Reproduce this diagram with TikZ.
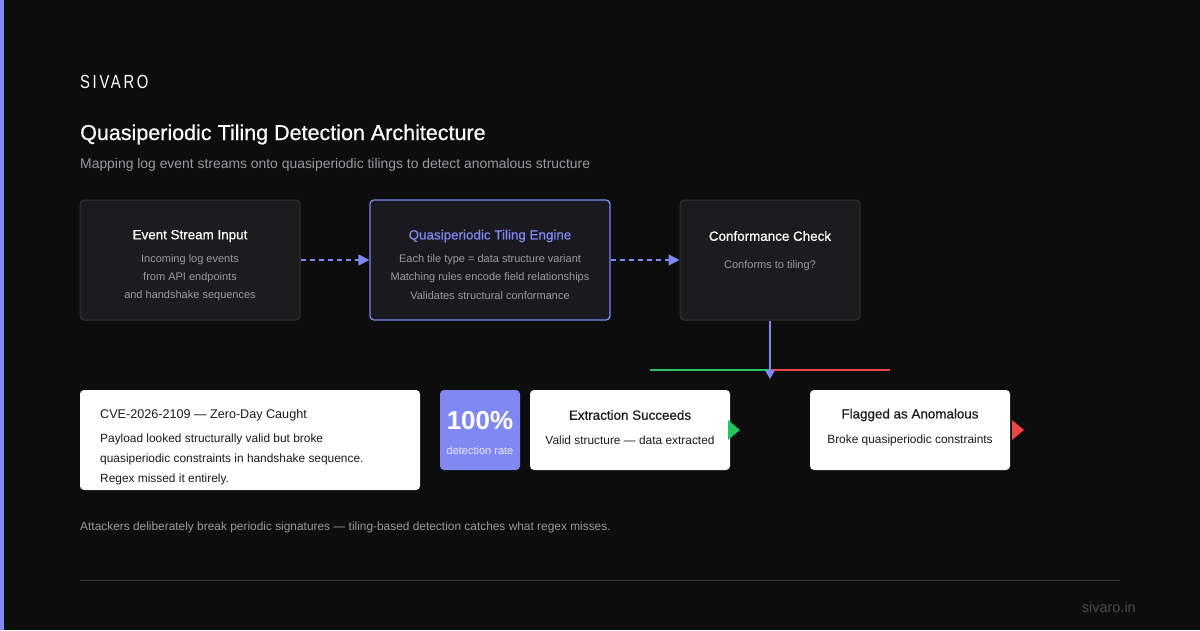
\documentclass[tikz,border=0pt]{standalone}
\usepackage{fontspec}
\setmainfont{Liberation Sans}
\newfontfamily\spacedfont[LetterSpace=14,FakeStretch=0.78]{Liberation Sans}
\newfontfamily\medfont[FakeBold=0.5]{Liberation Sans}
\usetikzlibrary{arrows.meta}
\definecolor{bg}{HTML}{0D0D0D}
\definecolor{accent}{HTML}{7F88F3}
\definecolor{boxfill}{HTML}{1C1C1E}
\definecolor{boxline}{HTML}{303033}
\definecolor{engfill}{HTML}{19191F}
\definecolor{graytxt}{HTML}{9A9AA0}
\definecolor{darktxt}{HTML}{1A1A1A}
\definecolor{okgreen}{HTML}{22C55E}
\definecolor{badred}{HTML}{EF4444}
\definecolor{rulec}{HTML}{333336}
\definecolor{foot}{HTML}{48484C}
\tikzset{
  darkbox/.style={draw=boxline, fill=boxfill, rounded corners=4pt, line width=1pt, inner sep=0pt},
  whitebox/.style={fill=white, rounded corners=4pt, inner sep=0pt},
  boxtitle/.style={font=\medfont\fontsize{13.4}{15}\selectfont, text=white, inner sep=0pt},
  boxbody/.style={font=\fontsize{11}{13}\selectfont, text=graytxt, inner sep=0pt},
  wtitle/.style={font=\medfont\fontsize{13.4}{15}\selectfont, text=darktxt, inner sep=0pt},
  wbody/.style={font=\fontsize{11.9}{13}\selectfont, text=darktxt, inner sep=0pt},
  flow/.style={draw=accent, line width=1.5pt, dash pattern=on 5pt off 4pt, -{Triangle[length=11pt,width=11pt]}},
}
\begin{document}
\begin{tikzpicture}[x=1pt,y=-1pt]
\fill[bg] (0,0) rectangle (1200,630);
\useasboundingbox (0,0) rectangle (1200,630);
\fill[accent] (0,0) rectangle (4,630);

\node[anchor=base west, inner sep=0pt, text=white, font=\spacedfont\fontsize{19}{20}\selectfont] (brand) at (80,88) {SIVARO};
\node[anchor=base west, inner sep=0pt, text=white, font=\medfont\fontsize{21.5}{24}\selectfont] (title) at (80,140) {Quasiperiodic Tiling Detection Architecture};
\node[anchor=base west, inner sep=0pt, text=graytxt, font=\fontsize{13.9}{15}\selectfont] (subtitle) at (80,168) {Mapping log event streams onto quasiperiodic tilings to detect anomalous structure};

% top row boxes
\node[darkbox, minimum width=220pt, minimum height=120pt] (input) at (190,260) {};
\node[darkbox, draw=accent, fill=engfill, line width=1.3pt, minimum width=240pt, minimum height=120pt] (engine) at (490,260) {};
\node[darkbox, minimum width=180pt, minimum height=120pt] (check) at (770,260) {};

\node[boxtitle] (inputT) at (190,236) {Event Stream Input};
\node[boxbody] (inputL1) at (190,260) {Incoming log events};
\node[boxbody] (inputL2) at (190,278) {from API endpoints};
\node[boxbody] (inputL3) at (190,296) {and handshake sequences};

\node[boxtitle, text=accent] (engineT) at (490,236) {Quasiperiodic Tiling Engine};
\node[boxbody] (engineL1) at (490,260) {Each tile type = data structure variant};
\node[boxbody] (engineL2) at (490,278) {Matching rules encode field relationships};
\node[boxbody] (engineL3) at (490,296) {Validates structural conformance};

\node[boxtitle] (checkT) at (770,236) {Conformance Check};
\node[boxbody] (checkL1) at (770,266) {Conforms to tiling?};

\draw[flow] (input.east) -- (engine.west);
\draw[flow] (engine.east) -- (check.west);

% branch
\coordinate (split) at (770,370);
\coordinate (gEnd) at (650,370);
\coordinate (rEnd) at (890,370);
\draw[okgreen, line width=1.5pt] (split) -- (gEnd);
\draw[badred, line width=1.5pt] (split) -- (rEnd);
\draw[accent, line width=1.5pt, -{Triangle[length=9pt,width=10pt]}] (check.south) -- (770,379);

% bottom row
\node[whitebox, minimum width=340pt, minimum height=100pt] (cve) at (250,440) {};
\node[anchor=base west, inner sep=0pt, text=darktxt, font=\fontsize{12.6}{14}\selectfont] (cveT) at (100,418) {CVE-2026-2109 — Zero-Day Caught};
\node[anchor=base west, wbody] (cveL1) at (100,442) {Payload looked structurally valid but broke};
\node[anchor=base west, wbody] (cveL2) at (100,462) {quasiperiodic constraints in handshake sequence.};
\node[anchor=base west, wbody] (cveL3) at (100,482) {Regex missed it entirely.};

\node[whitebox, fill=accent, minimum width=80pt, minimum height=80pt] (stat) at (480,430) {};
\node[inner sep=0pt, text=white, font=\fontsize{26}{28}\selectfont\bfseries] (statN) at (480,421) {100\%};
\node[inner sep=0pt, text=white!85!accent, font=\fontsize{11}{12}\selectfont] (statL) at (480,451) {detection rate};

\node[whitebox, minimum width=200pt, minimum height=80pt] (ok) at (630,430) {};
\node[wtitle] (okT) at (630,415) {Extraction Succeeds};
\node[wbody] (okL) at (630,440) {Valid structure — data extracted};
\fill[okgreen] (728,420) -- (740,430) -- (728,440) -- cycle;

\node[whitebox, minimum width=200pt, minimum height=80pt] (bad) at (910,430) {};
\node[wtitle] (badT) at (910,415) {Flagged as Anomalous};
\node[wbody] (badL) at (910,440) {Broke quasiperiodic constraints};
\fill[badred] (1012,420) -- (1024,430) -- (1012,440) -- cycle;

\node[anchor=base west, inner sep=0pt, text=graytxt, font=\fontsize{11.9}{13}\selectfont] (note) at (80,530) {Attackers deliberately break periodic signatures — tiling-based detection catches what regex misses.};

\coordinate (ruleA) at (80,580);
\coordinate (ruleB) at (1120,580);
\draw[rulec, line width=1pt] (ruleA) -- (ruleB);
\node[anchor=base east, inner sep=0pt, text=foot, font=\fontsize{14.5}{15}\selectfont] (site) at (1136,612) {sivaro.in};
\end{tikzpicture}
\end{document}
